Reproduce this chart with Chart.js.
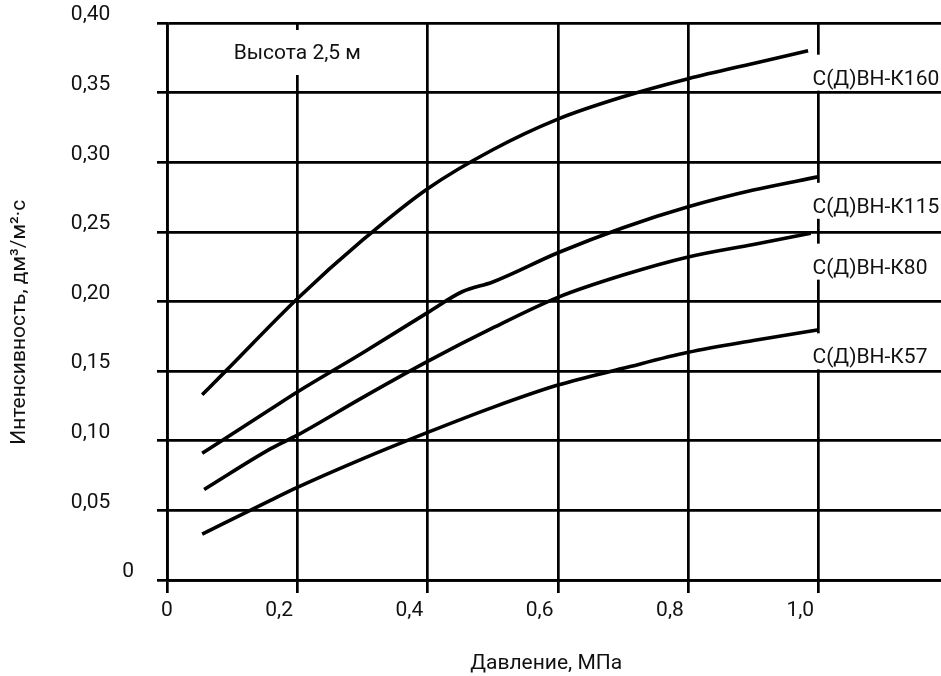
<!DOCTYPE html>
<html><head><meta charset="utf-8">
<script src="https://cdn.jsdelivr.net/npm/chart.js@4"></script>
<style>html,body{margin:0;padding:0;background:#fff;}#wrap{width:941px;height:676px;}</style>
</head><body><div id="wrap"><canvas id="c" width="941" height="676"></canvas></div>
<script>
// ---- data ----
const xTickValues = [0, 0.2, 0.4, 0.6, 0.8, 1.0];
const xTickLabels = ['0', '0,2', '0,4', '0,6', '0,8', '1,0'];
const yTickValues = [0, 0.05, 0.10, 0.15, 0.20, 0.25, 0.30, 0.35, 0.40];
const yTickLabels = ['0', '0,05', '0,10', '0,15', '0,20', '0,25', '0,30', '0,35', '0,40'];
const seriesNames = ['С(Д)ВН-К160', 'С(Д)ВН-К115', 'С(Д)ВН-К80', 'С(Д)ВН-К57'];

const pressureK160 = [0.054, 0.09, 0.2, 0.3, 0.4, 0.5, 0.6, 0.7, 0.8, 0.9, 0.984];
const intensityK160 = [0.133, 0.150, 0.202, 0.244, 0.281, 0.309, 0.331, 0.347, 0.360, 0.371, 0.380];

const pressureK115 = [0.054, 0.16, 0.2, 0.3, 0.4, 0.453, 0.5, 0.6, 0.7, 0.8, 0.9, 0.999];
const intensityK115 = [0.091, 0.123, 0.135, 0.163, 0.192, 0.207, 0.214, 0.235, 0.253, 0.268, 0.280, 0.2895];

const pressureK80 = [0.057, 0.16, 0.2, 0.3, 0.4, 0.5, 0.6, 0.7, 0.8, 0.9, 0.988];
const intensityK80 = [0.065, 0.0945, 0.104, 0.131, 0.157, 0.181, 0.203, 0.219, 0.232, 0.241, 0.249];

const pressureK57 = [0.054, 0.158, 0.2, 0.3, 0.4, 0.5, 0.6, 0.7, 0.8, 0.9, 0.998];
const intensityK57 = [0.033, 0.057, 0.0665, 0.087, 0.106, 0.124, 0.140, 0.152, 0.1635, 0.172, 0.1795];

const heightNote = 'Высота 2,5 м';
const xTitle = 'Давление, МПа';
const yTitle = 'Интенсивность, дм³/м²·с';

// ---- chart ----
const FONT = 'Roboto';
const FS = 21;
const INK = '#111';
const pairs = (xs, ys) => xs.map((x, i) => ({x: x, y: ys[i]}));
const seriesData = [
  pairs(pressureK160, intensityK160),
  pairs(pressureK115, intensityK115),
  pairs(pressureK80, intensityK80),
  pairs(pressureK57, intensityK57)
];
// label anchor (value units) for the text baseline at the right of each curve
const labelBaseY = [0.3557, 0.2637, 0.22, 0.1556];

const labelsPlugin = {
  id: 'curveLabels',
  beforeDatasetsDraw(chart) {
    const ctx = chart.ctx;
    const xs = chart.scales.x, ys = chart.scales.y;
    const x1 = xs.getPixelForValue(1.0);
    ctx.save();
    ctx.font = FS + 'px ' + FONT;
    ctx.fillStyle = INK;
    ctx.textBaseline = 'alphabetic';
    seriesNames.forEach((name, i) => {
      const by = ys.getPixelForValue(labelBaseY[i]);
      ctx.fillStyle = '#fff';
      ctx.fillRect(x1 - 9, by - 30, chart.width - x1 + 9, 36);
      ctx.fillStyle = INK;
      ctx.textAlign = 'left';
      ctx.fillText(name, x1 - 6, by);
    });
    // height note
    const x02 = xs.getPixelForValue(0.2);
    const top = ys.getPixelForValue(0.4);
    ctx.fillStyle = '#fff';
    ctx.fillRect(x02 - 72, top + 7, 144, 45);
    ctx.fillStyle = INK;
    ctx.textAlign = 'center';
    ctx.fillText(heightNote, x02, top + 36);
    ctx.restore();
  }
};

new Chart(document.getElementById('c'), {
  type: 'line',
  data: {
    datasets: seriesData.map((d, i) => ({
      label: seriesNames[i],
      data: d,
      borderColor: '#000',
      borderWidth: 3.6,
      pointRadius: 0,
      fill: false,
      cubicInterpolationMode: 'monotone'
    }))
  },
  options: {
    responsive: false,
    animation: false,
    devicePixelRatio: 1,
    layout: {padding: {top: 23, left: 0, right: 0, bottom: 0}},
    plugins: {legend: {display: false}, tooltip: {enabled: false}},
    scales: {
      x: {
        type: 'linear',
        min: 0,
        max: 1.188,
        afterBuildTicks: s => { s.ticks = xTickValues.map(v => ({value: v})); },
        afterFit: s => { s.height = 96; s.paddingLeft = 0; s.paddingRight = 0; },
        ticks: {
          autoSkip: false,
          maxRotation: 0,
          padding: 5,
          color: INK,
          font: {family: FONT, size: FS},
          callback: (v, i) => i === 0 ? xTickLabels[i] : xTickLabels[i] + '       '
        },
        grid: {color: '#000', lineWidth: 2.7, tickLength: 13},
        border: {display: true, color: '#000', width: 2.7},
        title: {
          display: true,
          text: xTitle + '   ',
          color: INK,
          font: {family: FONT, size: FS},
          padding: {top: 0, bottom: 0}
        }
      },
      y: {
        min: 0,
        max: 0.4,
        afterBuildTicks: s => { s.ticks = yTickValues.map(v => ({value: v})); },
        afterFit: s => { s.width = 167; s.paddingTop = 0; s.paddingBottom = 0; },
        ticks: {
          padding: 23,
          labelOffset: -8,
          color: INK,
          font: {family: FONT, size: FS},
          callback: (v, i) => i === 0 ? yTickLabels[i] : yTickLabels[i] + '\u2007\u2007'
        },
        grid: {color: '#000', lineWidth: 2.7, tickLength: 10},
        border: {display: true, color: '#000', width: 2.7},
        title: {
          display: true,
          text: yTitle + '        ',
          color: INK,
          font: {family: FONT, size: FS},
          padding: {top: 7, bottom: 0}
        }
      }
    }
  },
  plugins: [labelsPlugin]
});
</script>
</body></html>
